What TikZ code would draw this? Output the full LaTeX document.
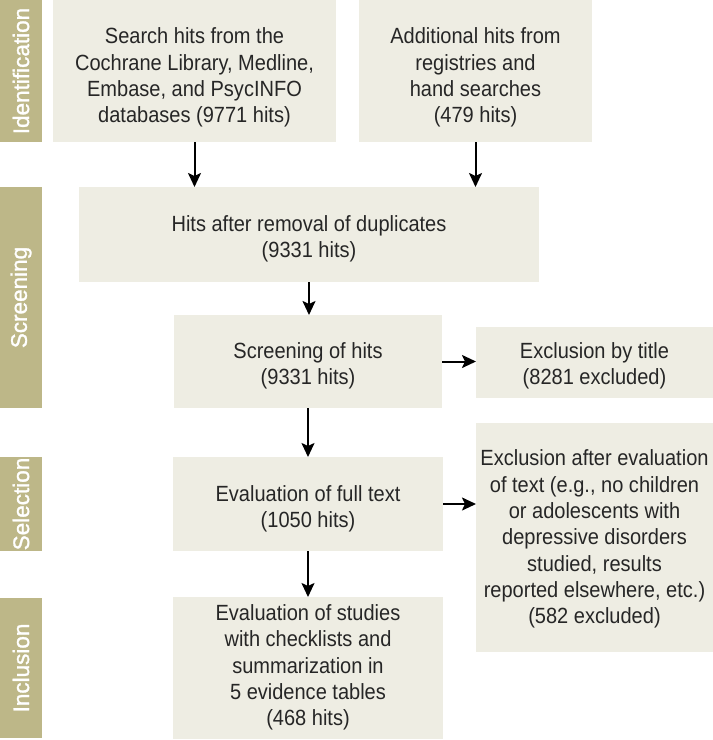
\documentclass[tikz,border=0pt]{standalone}
\usepackage{fontspec}
\setmainfont{Liberation Sans}[FakeStretch=0.91]
\newfontfamily\phasefont{Liberation Sans}[FakeBold=1.3]
\usetikzlibrary{arrows.meta}
\definecolor{barcol}{RGB}{189,183,136}
\definecolor{boxcol}{RGB}{238,237,227}
\newcommand\lowtext[2][5pt]{\raisebox{-#1}[\height][\depth]{\begin{tabular}{@{}c@{}}#2\end{tabular}}}

\begin{document}
\begin{tikzpicture}[x=1pt, y=-1pt,
    main/.style = {fill=boxcol, inner sep=0pt, outer sep=0pt, anchor=north west,
        text=black!85, font=\fontsize{22}{26.3}\selectfont},
    phase/.style = {fill=barcol, inner sep=0pt, outer sep=0pt, anchor=north west, minimum height=42pt,
        rotate=90, text=white, font=\phasefont\fontsize{22.5}{27}\selectfont},
    arr/.style = {-{Stealth[length=14pt, width=13pt, inset=3pt]}, line width=2pt}]
    \useasboundingbox (0,0) rectangle (713,740);
    \node[phase, minimum width=142pt] (ident) at (0,142) {Identification};
    \node[phase, minimum width=221pt] (scr) at (0,408) {Screening};
    \node[phase, minimum width=94pt] (sel) at (0,551) {Selection};
    \node[phase, minimum width=140pt] (incl) at (0,738) {Inclusion};
    \node[main, minimum width=283pt, minimum height=142pt] (search) at (53,0)
        {\lowtext[7pt]{Search hits from the\\Cochrane Library, Medline,\\Embase, and PsycINFO\\databases (9771 hits)}};
    \node[main, minimum width=233pt, minimum height=142pt] (extra) at (359,0)
        {\lowtext[7pt]{Additional hits from\\registries and\\hand searches\\(479 hits)}};
    \node[main, minimum width=460pt, minimum height=95pt] (dup) at (79,187)
        {\lowtext{Hits after removal of duplicates\\(9331 hits)}};
    \node[main, minimum width=268pt, minimum height=93pt] (screen) at (174,315)
        {\lowtext{Screening of hits\\(9331 hits)}};
    \node[main, minimum width=237pt, minimum height=71pt] (title) at (476,327)
        {\lowtext[4pt]{Exclusion by title\\(8281 excluded)}};
    \node[main, minimum width=270pt, minimum height=94pt] (full) at (173,457)
        {\lowtext{Evaluation of full text\\(1050 hits)}};
    \node[main, minimum width=237pt, minimum height=229pt] (excl) at (476,423)
        {\lowtext[2pt]{Exclusion after evaluation\\of text (e.g., no children\\or adolescents with\\depressive disorders\\studied, results\\reported elsewhere, etc.)\\(582 excluded)}};
    \node[main, minimum width=270pt, minimum height=142pt] (incl2) at (173,597)
        {\lowtext[0pt]{Evaluation of studies\\with checklists and\\summarization in\\5 evidence tables\\(468 hits)}};
    \draw[arr] (search.south) -- (search.south |- dup.north);
    \draw[arr] (extra.south) -- (extra.south |- dup.north);
    \draw[arr] (dup.south) -- (dup.south |- screen.north);
    \draw[arr] (screen.east) -- (screen.east -| title.west);
    \draw[arr] (screen.south) -- (screen.south |- full.north);
    \draw[arr] (full.east) -- (full.east -| excl.west);
    \draw[arr] (full.south) -- (incl2.north);
\end{tikzpicture}
\end{document}
